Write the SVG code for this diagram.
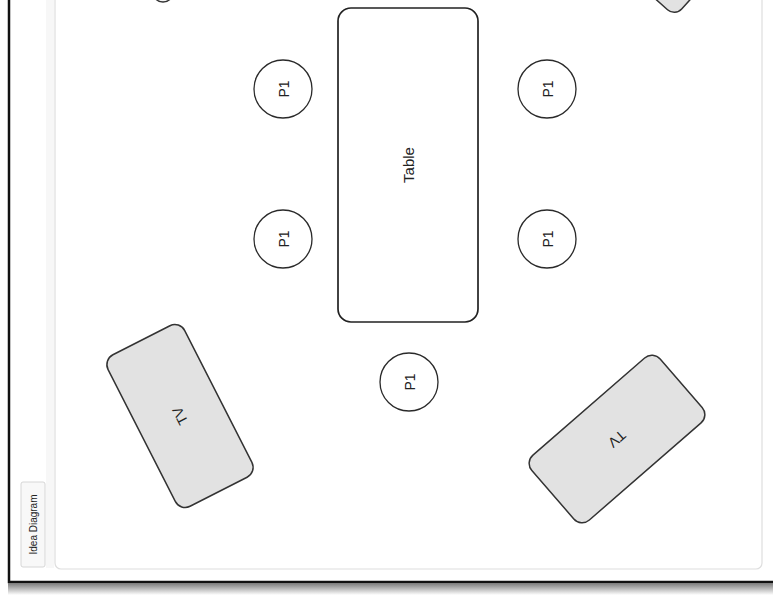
<svg xmlns="http://www.w3.org/2000/svg" width="773" height="598" viewBox="0 0 773 598">
  <defs>
    <linearGradient id="shadow" x1="0" y1="0" x2="0" y2="1">
      <stop offset="0" stop-color="#7a7a7a"/>
      <stop offset="1" stop-color="#ffffff"/>
    </linearGradient>
    <style>
      .lbl { font-family: "Liberation Sans", Arial, sans-serif; fill: #222; text-anchor: middle; dominant-baseline: central; }
      .seat { fill: #ffffff; stroke: #2a2a2a; stroke-width: 1.3; }
      .tv { fill: #e2e2e2; stroke: #333; stroke-width: 1.5; }
      .table { fill: #ffffff; stroke: #222; stroke-width: 1.7; }
    </style>
  </defs>
  <rect x="0" y="0" width="773" height="598" fill="#ffffff"/>
  <!-- outer frame -->
  <rect x="9" y="-20" width="790" height="602" fill="#ffffff" stroke="#111" stroke-width="2.5"/>
  <rect x="8" y="583" width="780" height="12" fill="url(#shadow)"/>
  <!-- inner panel -->
  <rect x="46" y="-20" width="8" height="588" fill="#f7f7f7"/>
  <rect x="55" y="-20" width="707" height="589" rx="6" fill="#ffffff" stroke="#dedede" stroke-width="1.2"/>
  <!-- label -->
  <g id="label">
    <rect x="21" y="482" width="24" height="85" rx="2" fill="#f8f8f8" stroke="#d6d6d6" stroke-width="1"/>
    <text class="lbl" font-size="10" fill="#333" transform="translate(33.5,524.5) rotate(-90)">Idea Diagram</text>
  </g>
  <!-- partial shapes at top -->
  <g id="tv-top-left">
    <rect x="-32" y="-32" width="64" height="64" rx="10" fill="#f4f4f4" stroke="#333" stroke-width="1.5" transform="translate(163,-39) rotate(45)"/>
  </g>
  <g id="tv-top-right">
    <rect x="-40" y="-40" width="80" height="80" rx="10" class="tv" transform="translate(672,-40) rotate(42)"/>
  </g>
  <!-- table -->
  <g id="table">
    <rect class="table" x="338" y="8" width="140" height="314" rx="13"/>
    <text class="lbl" font-size="15" transform="translate(408,165) rotate(-90)">Table</text>
  </g>
  <!-- seats -->
  <g id="p1-left-top">
    <circle class="seat" cx="283" cy="89" r="29"/>
    <text class="lbl" font-size="14" transform="translate(284,89) rotate(-90)">P1</text>
  </g>
  <g id="p1-left-bottom">
    <circle class="seat" cx="283" cy="239" r="29"/>
    <text class="lbl" font-size="14" transform="translate(284,239) rotate(-90)">P1</text>
  </g>
  <g id="p1-right-top">
    <circle class="seat" cx="547" cy="89" r="29"/>
    <text class="lbl" font-size="14" transform="translate(548,89) rotate(-90)">P1</text>
  </g>
  <g id="p1-right-bottom">
    <circle class="seat" cx="547" cy="239" r="29"/>
    <text class="lbl" font-size="14" transform="translate(548,239) rotate(-90)">P1</text>
  </g>
  <g id="p1-bottom">
    <circle class="seat" cx="409" cy="382" r="29"/>
    <text class="lbl" font-size="14" transform="translate(410,382) rotate(-90)">P1</text>
  </g>
  <!-- TVs -->
  <g id="tv-left" transform="translate(180,416) rotate(-27)">
    <rect class="tv" x="-43" y="-85" width="86" height="170" rx="11"/>
    <text class="lbl" font-size="14" transform="rotate(-90)">TV</text>
  </g>
  <g id="tv-right" transform="translate(617,439) rotate(-131)">
    <rect class="tv" x="-43" y="-85" width="86" height="170" rx="11"/>
    <text class="lbl" font-size="14" transform="rotate(-90)">TV</text>
  </g>
  <g id="connectors"></g>
</svg>
